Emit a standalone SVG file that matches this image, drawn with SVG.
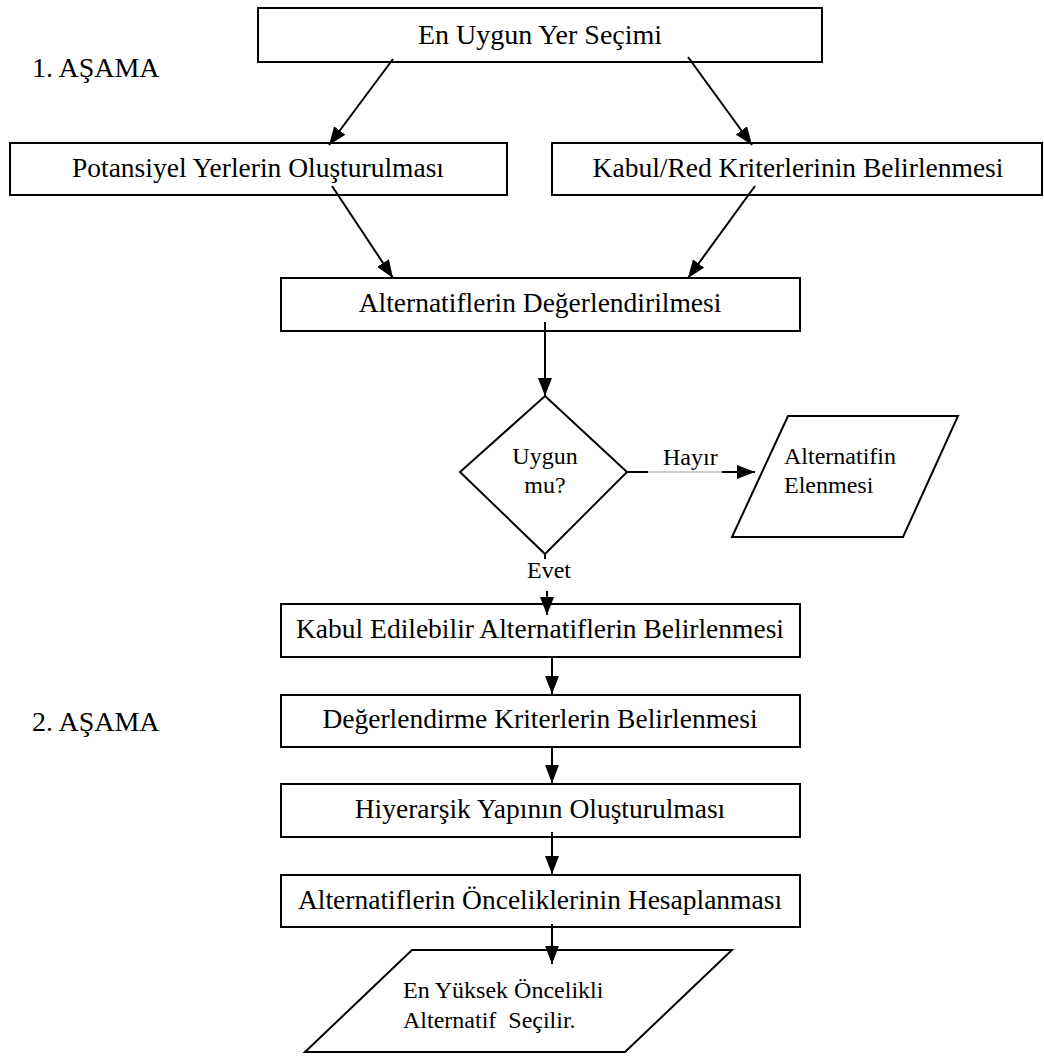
<svg xmlns="http://www.w3.org/2000/svg" width="1044" height="1063" viewBox="0 0 1044 1063">
  <style>
    .box { fill: #fff; stroke: #000; stroke-width: 2; }
    .lbl { font-family: "Liberation Serif", "Times New Roman", serif; font-size: 27.5px; fill: #000; }
    .big { font-size: 28px; }
    .sm { font-size: 24px; }
    .mid { text-anchor: middle; }
    .wire { stroke: #000; stroke-width: 2; fill: none; }
    .thin { stroke: #999; stroke-width: 1; fill: none; }
  </style>
  <defs>
    <marker id="ah" markerWidth="18" markerHeight="14" refX="18" refY="7" orient="auto" markerUnits="userSpaceOnUse">
      <path d="M0,0 L18,7 L0,14 z" fill="#000"/>
    </marker>
  </defs>

  <rect width="1044" height="1063" fill="#fff"/>

  <!-- stage labels -->
  <text class="lbl big" x="32" y="77">1. AŞAMA</text>
  <text class="lbl big" x="32" y="731">2. AŞAMA</text>

  <!-- nodes -->
  <g id="secim">
    <rect class="box" x="258" y="8" width="564" height="54"/>
    <text class="lbl big mid" x="540" y="44">En Uygun Yer Seçimi</text>
  </g>
  <g id="potansiyel">
    <rect class="box" x="10" y="143" width="497" height="52"/>
    <text class="lbl mid" x="258" y="177">Potansiyel Yerlerin Oluşturulması</text>
  </g>
  <g id="kabul-red">
    <rect class="box" x="552" y="143" width="490" height="52"/>
    <text class="lbl mid" x="798" y="177">Kabul/Red Kriterlerinin Belirlenmesi</text>
  </g>
  <g id="degerlendirme">
    <rect class="box" x="281" y="278" width="519" height="53"/>
    <text class="lbl mid" x="540" y="312">Alternatiflerin Değerlendirilmesi</text>
  </g>
  <g id="uygun-mu">
    <polygon class="box" points="545,396 627,472 545,554 460,472"/>
    <text class="lbl sm mid" x="545" y="464">Uygun</text>
    <text class="lbl sm mid" x="545" y="493">mu?</text>
  </g>
  <g id="elenme">
    <polygon class="box" points="788,416 958,416 903,537 732,537"/>
    <text class="lbl sm" x="784" y="464">Alternatifin</text>
    <text class="lbl sm" x="784" y="493">Elenmesi</text>
  </g>
  <g id="kabul-edilebilir">
    <rect class="box" x="281" y="604" width="519" height="53"/>
    <text class="lbl mid" x="540" y="638">Kabul Edilebilir Alternatiflerin Belirlenmesi</text>
  </g>
  <g id="kriterler">
    <rect class="box" x="281" y="695" width="519" height="52"/>
    <text class="lbl mid" x="540" y="728">Değerlendirme Kriterlerin Belirlenmesi</text>
  </g>
  <g id="hiyerarsi">
    <rect class="box" x="281" y="784" width="519" height="53"/>
    <text class="lbl mid" x="540" y="818">Hiyerarşik Yapının Oluşturulması</text>
  </g>
  <g id="oncelikler">
    <rect class="box" x="281" y="875" width="519" height="52"/>
    <text class="lbl mid" x="540" y="909">Alternatiflerin Önceliklerinin Hesaplanması</text>
  </g>
  <g id="secilen">
    <polygon class="box" points="412,950 732,950 625,1052 305,1052"/>
    <text class="lbl sm" x="403" y="998">En Yüksek Öncelikli</text>
    <text class="lbl sm" x="403" y="1028" xml:space="preserve">Alternatif  Seçilir.</text>
  </g>

  <!-- connectors -->
  <g id="connectors">
    <line class="wire" x1="393" y1="59" x2="329" y2="145" marker-end="url(#ah)"/>
    <line class="wire" x1="688" y1="57" x2="752" y2="145" marker-end="url(#ah)"/>
    <line class="wire" x1="332" y1="186" x2="393" y2="278" marker-end="url(#ah)"/>
    <line class="wire" x1="755" y1="186" x2="688" y2="278" marker-end="url(#ah)"/>
    <line class="wire" x1="545" y1="322" x2="545" y2="396" marker-end="url(#ah)"/>
    <!-- "Hayır" branch -->
    <line class="wire" x1="627" y1="472" x2="648" y2="472"/>
    <line class="thin" x1="648" y1="472" x2="722" y2="472"/>
    <line class="wire" x1="722" y1="472" x2="755" y2="472" marker-end="url(#ah)"/>
    <text class="lbl sm" x="663" y="465">Hayır</text>
    <!-- "Evet" branch -->
    <line class="wire" x1="545" y1="554" x2="545" y2="559"/>
    <text class="lbl sm mid" x="549" y="578">Evet</text>
    <line class="wire" x1="547" y1="591" x2="547" y2="615" marker-end="url(#ah)"/>
    <line class="wire" x1="552" y1="656" x2="552" y2="694" marker-end="url(#ah)"/>
    <line class="wire" x1="552" y1="746" x2="552" y2="783" marker-end="url(#ah)"/>
    <line class="wire" x1="552" y1="832" x2="552" y2="874" marker-end="url(#ah)"/>
    <line class="wire" x1="552" y1="924" x2="552" y2="964" marker-end="url(#ah)"/>
  </g>
</svg>
